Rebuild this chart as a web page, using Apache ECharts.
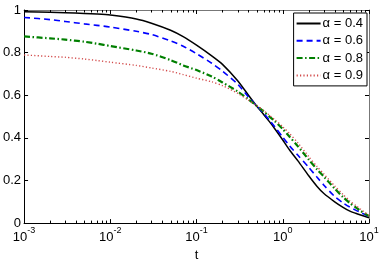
<!DOCTYPE html>
<html>
<head>
<meta charset="utf-8">
<script src="https://cdn.jsdelivr.net/npm/echarts@6/dist/echarts.min.js"></script>
<style>
html,body{margin:0;padding:0;background:#fff;}
#c{width:382px;height:267px;}
</style>
</head>
<body>
<div id="c"></div>
<script>
const T = [0.001, 0.002, 0.003, 0.005, 0.007, 0.01, 0.02, 0.03, 0.05, 0.07, 0.1, 0.15, 0.2, 0.3, 0.4, 0.5, 0.6, 0.7, 0.8, 1, 1.2, 1.5, 2, 2.5, 3, 4, 5, 6, 7, 8, 10];
const alpha04 = [0.992,0.989,0.987,0.984,0.981,0.976,0.958,0.938,0.905,0.875,0.835,0.785,0.745,0.668,0.600,0.548,0.510,0.476,0.445,0.390,0.343,0.292,0.222,0.172,0.139,0.100,0.074,0.056,0.046,0.038,0.025];
const alpha06 = [0.965,0.955,0.946,0.935,0.928,0.920,0.900,0.885,0.855,0.830,0.795,0.750,0.713,0.652,0.592,0.549,0.515,0.483,0.454,0.403,0.362,0.318,0.262,0.215,0.178,0.125,0.095,0.075,0.061,0.050,0.030];
const alpha08 = [0.876,0.867,0.861,0.851,0.842,0.831,0.810,0.795,0.765,0.740,0.718,0.688,0.660,0.618,0.581,0.550,0.524,0.500,0.480,0.441,0.405,0.360,0.298,0.252,0.218,0.162,0.122,0.094,0.074,0.057,0.033];
const alpha09 = [0.789,0.782,0.778,0.770,0.763,0.755,0.740,0.728,0.712,0.697,0.680,0.663,0.645,0.609,0.577,0.551,0.528,0.506,0.487,0.452,0.420,0.376,0.312,0.265,0.230,0.174,0.134,0.104,0.083,0.065,0.036];
const seriesNames = ['α = 0.4', 'α = 0.6', 'α = 0.8', 'α = 0.9'];
const yTicks = [0, 0.2, 0.4, 0.6, 0.8, 1];
const xDecades = [0.001, 0.01, 0.1, 1, 10];
const minorTicks = [];
for (let e = -3; e < 1; e++) for (let k = 2; k <= 9; k++) minorTicks.push(k * Math.pow(10, e));

const FONT = '"Liberation Sans", Arial, Helvetica, sans-serif';
const chart = echarts.init(document.getElementById('c'), null, {renderer: 'canvas'});

function pairs(vals) { return T.map((t, i) => [t, vals[i]]); }

const lineBase = {type: 'line', xAxisIndex: 0, yAxisIndex: 0, symbol: 'none', smooth: 0.25, animation: false, z: 3};

const option = {
  animation: false,
  backgroundColor: '#fff',
  grid: {left: 21, right: 13, top: 10, bottom: 36, containLabel: false},
  legend: {
    data: seriesNames,
    orient: 'vertical',
    right: 15, top: 13,
    padding: [4, 4, 4, 2],
    itemWidth: 24, itemHeight: 14, itemGap: 4.3,
    borderColor: '#000', borderWidth: 1, backgroundColor: '#fff', borderRadius: 0,
    itemStyle: {opacity: 0},
    textStyle: {fontFamily: FONT, fontSize: 13, color: '#000', padding: [0, 0, 0, -3]}
  },
  xAxis: [{
    type: 'log', logBase: 10, min: 0.001, max: 10,
    position: 'bottom',
    axisLine: {show: true, onZero: false, lineStyle: {color: '#000', width: 1}},
    axisTick: {show: true, inside: true, length: 4, lineStyle: {color: '#000'}},
    splitLine: {show: false},
    name: 't', nameLocation: 'middle', nameGap: 25,
    nameTextStyle: {fontFamily: FONT, fontSize: 13, color: '#000'},
    axisLabel: {
      margin: 3,
      formatter: function (v) {
        const e = Math.round(Math.log10(v));
        return '{b|10}{s|' + (e < 0 ? '-' : '') + Math.abs(e) + '}';
      },
      rich: {
        b: {fontFamily: FONT, fontSize: 13, color: '#000', verticalAlign: 'bottom', lineHeight: 18},
        s: {fontFamily: FONT, fontSize: 9, color: '#000', verticalAlign: 'top', lineHeight: 18}
      }
    }
  }, {
    type: 'log', logBase: 10, min: 0.001, max: 10,
    position: 'top',
    axisLine: {show: true, onZero: false, lineStyle: {color: '#777', width: 1}},
    axisTick: {show: true, inside: true, length: 4, lineStyle: {color: '#000'}},
    axisLabel: {show: false},
    splitLine: {show: false}
  }],
  yAxis: [{
    type: 'value', min: 0, max: 1, interval: 0.2,
    position: 'left',
    axisLine: {show: true, onZero: false, lineStyle: {color: '#000', width: 1}},
    axisTick: {show: true, inside: true, length: 4, lineStyle: {color: '#000'}},
    splitLine: {show: false},
    axisLabel: {margin: 3, fontFamily: FONT, fontSize: 13, color: '#000'}
  }, {
    type: 'value', min: 0, max: 1, interval: 0.2,
    position: 'right',
    axisLine: {show: true, onZero: false, lineStyle: {color: '#777', width: 1}},
    axisTick: {show: true, inside: true, length: 4, lineStyle: {color: '#000'}},
    splitLine: {show: false},
    axisLabel: {show: false}
  }],
  series: [
    Object.assign({}, lineBase, {name: seriesNames[0], data: pairs(alpha04), color: '#000',
      lineStyle: {color: '#000', width: 1.5, type: 'solid'}}),
    Object.assign({}, lineBase, {name: seriesNames[1], data: pairs(alpha06), color: '#0000ff',
      lineStyle: {color: '#0000ff', width: 1.6, type: [6, 4]}}),
    Object.assign({}, lineBase, {name: seriesNames[2], data: pairs(alpha08), color: '#007f00',
      lineStyle: {color: '#007f00', width: 2.2, type: [6, 2.5, 1.5, 2.5]}}),
    Object.assign({}, lineBase, {name: seriesNames[3], data: pairs(alpha09), color: '#d24a4a',
      lineStyle: {color: '#d24a4a', width: 1.4, type: [1.2, 2.2]}}),
    {
      type: 'custom', name: 'minorTicks', xAxisIndex: 0, yAxisIndex: 0, silent: true,
      data: minorTicks.map(v => [v]), z: 2, animation: false,
      renderItem: function (params, api) {
        const b = api.coord([api.value(0), 0]);
        const t = api.coord([api.value(0), 1]);
        const x = Math.round(b[0]) + 0.5;
        return {type: 'group', children: [
          {type: 'line', shape: {x1: x, y1: b[1], x2: x, y2: b[1] - 2.5}, style: {stroke: '#000', lineWidth: 1}},
          {type: 'line', shape: {x1: x, y1: t[1], x2: x, y2: t[1] + 2.5}, style: {stroke: '#000', lineWidth: 1}}
        ]};
      }
    }
  ]
};
chart.setOption(option);
</script>
</body>
</html>
